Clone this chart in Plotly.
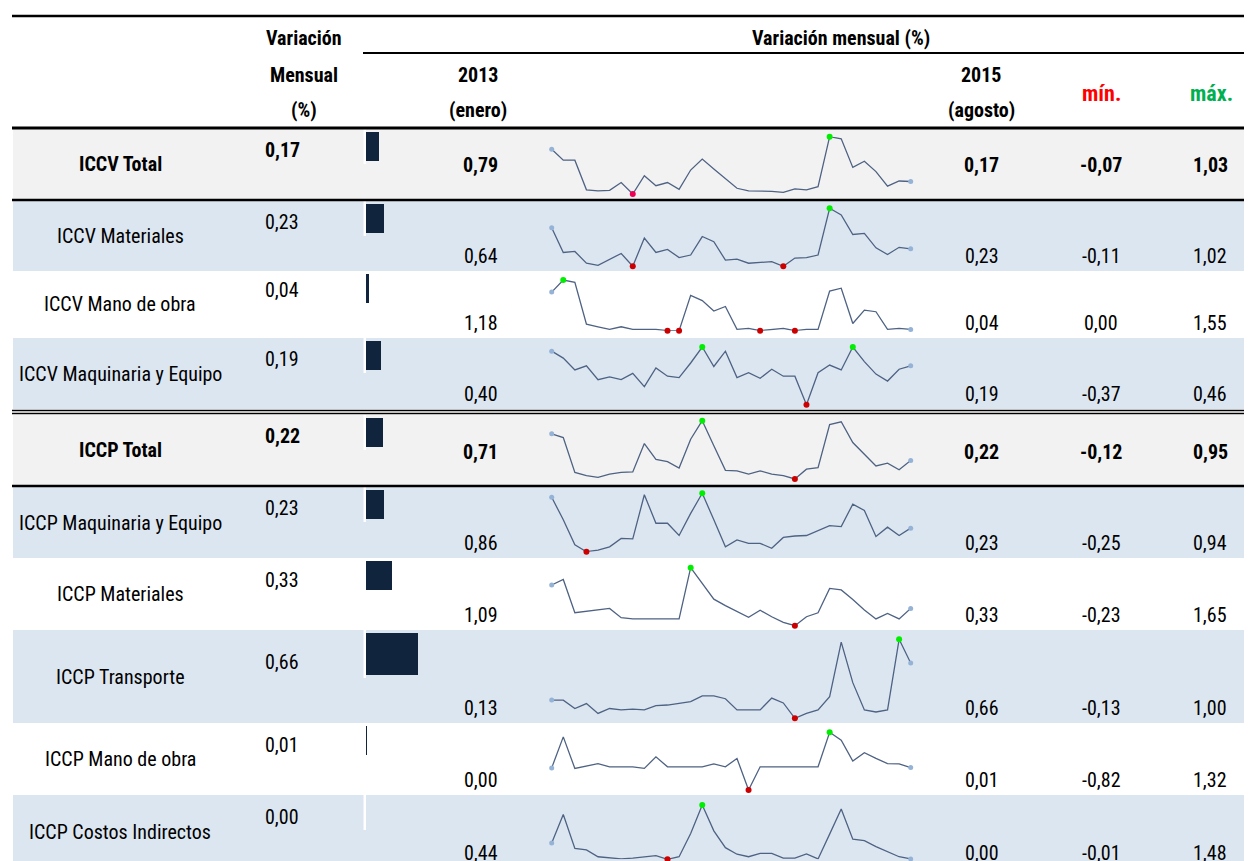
import plotly.graph_objects as go

# ---- data -----------------------------------------------------------------
labels = [
    "ICCV Total", "ICCV Materiales", "ICCV Mano de obra", "ICCV Maquinaria y Equipo",
    "ICCP Total", "ICCP Maquinaria y Equipo", "ICCP Materiales", "ICCP Transporte",
    "ICCP Mano de obra", "ICCP Costos Indirectos",
]
is_total = [True, False, False, False, True, False, False, False, False, False]

var_mensual = [0.17, 0.23, 0.04, 0.19, 0.22, 0.23, 0.33, 0.66, 0.01, 0.00]
v_2013 = [0.79, 0.64, 1.18, 0.40, 0.71, 0.86, 1.09, 0.13, 0.00, 0.44]
v_2015 = [0.17, 0.23, 0.04, 0.19, 0.22, 0.23, 0.33, 0.66, 0.01, 0.00]
v_min = [-0.07, -0.11, 0.00, -0.37, -0.12, -0.25, -0.23, -0.13, -0.82, -0.01]
v_max = [1.03, 1.02, 1.55, 0.46, 0.95, 0.94, 1.65, 1.00, 1.32, 1.48]

# monthly series, enero 2013 .. agosto 2015 (32 months)
iccv_total = [0.79, 0.58, 0.58, 0.01, -0.01, 0.00, 0.15, -0.07, 0.28, 0.09, 0.15, 0.02, 0.39, 0.60, 0.41, 0.23,
              0.04, -0.01, -0.01, -0.02, -0.04, 0.03, 0.01, 0.07, 1.03, 0.99, 0.44, 0.56, 0.36, 0.08, 0.18, 0.17]
iccv_materiales = [0.64, 0.16, 0.18, -0.05, -0.09, 0.03, 0.14, -0.11, 0.44, 0.16, 0.22, 0.06, 0.11, 0.47, 0.37, 0.01,
                   0.03, -0.05, -0.04, -0.02, -0.11, 0.05, 0.06, 0.11, 1.02, 0.89, 0.51, 0.53, 0.25, 0.12, 0.26, 0.23]
iccv_mano_obra = [1.18, 1.55, 1.48, 0.20, 0.12, 0.04, 0.12, 0.04, 0.04, 0.04, 0.00, 0.00, 1.08, 0.92, 0.60, 0.74,
                  0.04, 0.07, 0.00, 0.04, 0.07, 0.00, 0.04, 0.04, 1.21, 1.30, 0.22, 0.63, 0.58, 0.04, 0.07, 0.04]
iccv_maquinaria = [0.40, 0.30, 0.13, 0.19, -0.01, 0.03, -0.01, 0.08, -0.11, 0.16, 0.04, 0.02, 0.23, 0.46, 0.18, 0.40,
                   0.02, 0.09, 0.01, 0.14, 0.04, 0.04, -0.37, 0.09, 0.20, 0.13, 0.46, 0.25, 0.07, -0.03, 0.14, 0.19]
iccp_total = [0.71, 0.64, 0.00, -0.06, -0.09, -0.03, 0.00, 0.01, 0.53, 0.24, 0.20, 0.08, 0.61, 0.95, 0.49, 0.04,
              0.03, -0.03, 0.03, -0.03, -0.06, -0.12, 0.06, 0.09, 0.88, 0.93, 0.55, 0.33, 0.12, 0.17, 0.05, 0.22]
iccp_maquinaria = [0.86, 0.40, -0.11, -0.25, -0.22, -0.15, 0.02, 0.01, 0.91, 0.33, 0.33, 0.08, 0.53, 0.94, 0.40, -0.15,
                   -0.01, -0.08, -0.08, -0.18, 0.04, 0.07, 0.08, 0.18, 0.28, 0.26, 0.72, 0.59, 0.06, 0.25, 0.08, 0.23]
iccp_materiales = [1.09, 1.27, 0.19, 0.24, 0.28, 0.33, 0.03, -0.01, -0.01, -0.01, -0.01, -0.01, 1.65, 1.14, 0.63, 0.42,
                   0.22, 0.04, 0.27, 0.06, -0.12, -0.23, 0.06, 0.19, 0.98, 0.93, 0.62, 0.28, -0.01, 0.17, -0.01, 0.33]
iccp_transporte = [0.13, 0.13, 0.01, 0.08, -0.06, 0.01, -0.01, 0.00, -0.01, 0.05, 0.06, 0.08, 0.11, 0.19, 0.19, 0.15,
                   -0.01, -0.01, -0.01, 0.16, 0.09, -0.13, -0.06, -0.01, 0.18, 0.96, 0.38, -0.01, -0.04, -0.01, 1.00, 0.66]
iccp_mano_obra = [0.00, 1.15, -0.02, 0.06, 0.16, 0.04, 0.04, 0.04, -0.02, 0.41, 0.04, 0.04, 0.04, 0.04, 0.15, 0.04,
                  0.35, -0.82, 0.04, 0.04, 0.04, 0.04, 0.04, 0.04, 1.32, 1.03, 0.25, 0.56, 0.35, 0.16, 0.15, 0.01]
iccp_costos_ind = [0.44, 1.22, 0.29, 0.25, 0.06, 0.02, 0.00, 0.02, 0.06, 0.09, -0.01, 0.06, 0.70, 1.48, 0.77, 0.31,
                   0.13, 0.06, 0.15, 0.15, 0.02, 0.02, 0.14, 0.00, 0.68, 1.37, 0.54, 0.50, 0.34, 0.20, 0.06, 0.00]

series = [iccv_total, iccv_materiales, iccv_mano_obra, iccv_maquinaria, iccp_total,
          iccp_maquinaria, iccp_materiales, iccp_transporte, iccp_mano_obra, iccp_costos_ind]

# ---- layout geometry (pixels of the 1252x861 window) -----------------------
WIN_W, WIN_H = 1252, 861
OFF = 8  # page body margin
W, H = WIN_W - OFF, WIN_H - OFF
row_top = [129, 201, 271, 338, 415, 487, 558, 630, 723, 795]
row_bot = [199, 271, 338, 409, 485, 558, 630, 723, 795, 868]
row_bg = ["#f2f2f2", "#dce6f1", "#ffffff", "#dce6f1", "#f2f2f2",
          "#dce6f1", "#ffffff", "#dce6f1", "#ffffff", "#dce6f1"]
spark_top = [136.7, 208.3, 280, 347, 420.7, 493.3, 567.7, 639.3, 732.3, 805]
spark_bot = [194, 266.3, 330.7, 404.7, 479, 551.7, 625.7, 718.3, 790, 859.3]
spark_x0, spark_x1 = 551.7, 910.7
bar_x0, bar_px_per_unit = 366, 79

FONT = "Liberation Sans Narrow, Arial Narrow, Roboto Condensed, sans-serif"
FS = 20
LINE_COL = "#4e6283"


def px(x):
    return (x - OFF) / W


def py(y):
    return 1 - (y - OFF) / H


def fmt(v):
    return f"{v:.2f}".replace(".", ",")


fig = go.Figure()
shapes = []
ann = []


def text(x, y, s, bold=False, color="black", anchor="center", size=FS):
    ann.append(dict(x=px(x), y=py(y), xref="paper", yref="paper", text=f"<b>{s}</b>" if bold else s,
                    showarrow=False, xanchor=anchor, yanchor="middle",
                    font=dict(family=FONT, size=size, color=color)))


def hline(y, x0, x1, w, color="black"):
    shapes.append(dict(type="line", xref="paper", yref="paper", x0=px(x0), x1=px(x1), y0=py(y), y1=py(y),
                       line=dict(color=color, width=w), layer="above"))


# row backgrounds
for i in range(len(labels)):
    shapes.append(dict(type="rect", xref="paper", yref="paper", x0=px(13), x1=1, y0=py(row_bot[i]),
                       y1=py(row_top[i]), fillcolor=row_bg[i], line=dict(width=0), layer="below"))
    bh = 42 if i == 7 else 29
    shapes.append(dict(type="rect", xref="paper", yref="paper", x0=px(363.5), x1=px(366),
                       y0=py(row_top[i] + bh + 6), y1=py(row_top[i]), fillcolor="white",
                       line=dict(width=0), layer="below"))

# header rules and row separators
hline(16, 12, WIN_W, 2.5)
hline(53, 363, WIN_W, 2)
hline(128, 12, WIN_W, 3)
hline(200, 12, WIN_W, 2.5)
hline(410.5, 12, WIN_W, 1.6)
hline(413.5, 12, WIN_W, 1.6)
hline(486, 12, WIN_W, 2.5)

# header texts
text(304, 38, "Variación", bold=True)
text(304, 75, "Mensual", bold=True)
text(304, 110, "(%)", bold=True)
text(841, 38, "Variación mensual (%)", bold=True)
text(478, 75, "2013", bold=True)
text(478, 110, "(enero)", bold=True)
text(981, 75, "2015", bold=True)
text(981, 110, "(agosto)", bold=True)
text(1101, 94, "mín.", bold=True, color="#ff0000", size=22)
text(1211, 94, "máx.", bold=True, color="#00b050", size=22)

# data bars (variación mensual)
bar_y = []
bar_w = []
for i in range(len(labels)):
    bh = 42 if i == 7 else 29
    bar_y.append(row_top[i] + 3 + bh / 2)
    bar_w.append(bh)
fig.add_trace(go.Bar(x=var_mensual, y=bar_y, width=bar_w, orientation="h", marker_color="#10243e",
                     marker_line_width=0, hoverinfo="skip", xaxis="x", yaxis="y"))

layout_axes = dict(
    xaxis=dict(domain=[px(bar_x0), 1], range=[0, (WIN_W - bar_x0) / bar_px_per_unit], visible=False,
               fixedrange=True),
    yaxis=dict(domain=[0, 1], range=[WIN_H, OFF], visible=False, fixedrange=True),
)

# row texts + sparklines
for i, lab in enumerate(labels):
    b = is_total[i]
    mid = (row_top[i] + row_bot[i]) / 2
    text(120, mid, lab, bold=b)
    text(263, mid - 14.5, fmt(var_mensual[i]), bold=b, anchor="left")
    yv = mid + 1.5 if b else row_bot[i] - 15
    text(481, yv, fmt(v_2013[i]), bold=b)
    text(982, yv, fmt(v_2015[i]), bold=b)
    text(1101, yv, fmt(v_min[i]), bold=b)
    text(1210, yv, fmt(v_max[i]), bold=b)

    s = series[i]
    k = i + 2
    xs = list(range(len(s)))
    lo, hi = min(s), max(s)
    layout_axes[f"xaxis{k}"] = dict(domain=[px(spark_x0), px(spark_x1)], range=[0, len(s) - 1],
                                    visible=False, fixedrange=True, anchor=f"y{k}")
    layout_axes[f"yaxis{k}"] = dict(domain=[py(spark_bot[i]), py(spark_top[i])], range=[lo, hi],
                                    visible=False, fixedrange=True, anchor=f"x{k}")
    fig.add_trace(go.Scatter(x=xs, y=s, mode="lines", line=dict(color=LINE_COL, width=1.3),
                             xaxis=f"x{k}", yaxis=f"y{k}", hoverinfo="skip", cliponaxis=False))
    ends = [0, len(s) - 1]
    fig.add_trace(go.Scatter(x=ends, y=[s[j] for j in ends], mode="markers",
                             marker=dict(color="#95b3d7", size=5), xaxis=f"x{k}", yaxis=f"y{k}",
                             hoverinfo="skip", cliponaxis=False))
    mx = [j for j, v in enumerate(s) if v == hi]
    mn = [j for j, v in enumerate(s) if v == lo]
    fig.add_trace(go.Scatter(x=mx, y=[s[j] for j in mx], mode="markers",
                             marker=dict(color="#00ee00", size=6), xaxis=f"x{k}", yaxis=f"y{k}",
                             hoverinfo="skip", cliponaxis=False))
    fig.add_trace(go.Scatter(x=mn, y=[s[j] for j in mn], mode="markers",
                             marker=dict(color="#ee0055" if i == 0 else "#cc0000", size=6),
                             xaxis=f"x{k}", yaxis=f"y{k}", hoverinfo="skip", cliponaxis=False))

fig.update_layout(
    width=W, height=H, margin=dict(l=0, r=0, t=0, b=0),
    paper_bgcolor="white", plot_bgcolor="rgba(0,0,0,0)",
    showlegend=False, shapes=shapes, annotations=ann, bargap=0,
    **layout_axes,
)

fig.write_html("out.html", config={"displayModeBar": False})
